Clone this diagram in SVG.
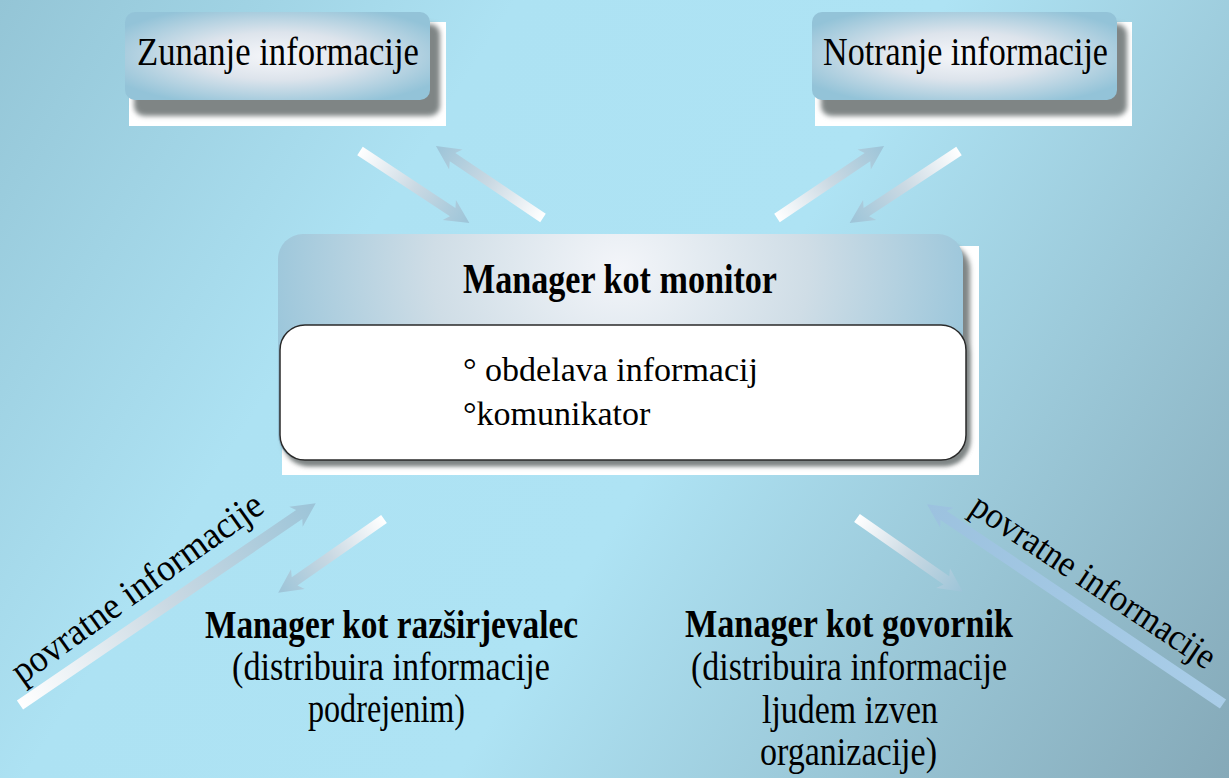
<svg xmlns="http://www.w3.org/2000/svg" width="1229" height="778" viewBox="0 0 1229 778">
  <defs>
    <linearGradient id="bg" x1="0" y1="0" x2="1229" y2="778" gradientUnits="userSpaceOnUse">
      <stop offset="0" stop-color="#94c5d6"/>
      <stop offset="0.3" stop-color="#ade2f3"/>
      <stop offset="0.55" stop-color="#aee3f4"/>
      <stop offset="1" stop-color="#85a9b8"/>
    </linearGradient>
    <radialGradient id="topbox" cx="0.5" cy="0.5" r="0.6">
      <stop offset="0" stop-color="#f6f7fa"/>
      <stop offset="0.45" stop-color="#dde4ec"/>
      <stop offset="1" stop-color="#93c3d8"/>
    </radialGradient>
    <radialGradient id="header" cx="0.5" cy="0.15" r="0.55" gradientTransform="translate(0.5,0.15) scale(1,2.5) translate(-0.5,-0.15)">
      <stop offset="0" stop-color="#f3f5f9"/>
      <stop offset="0.5" stop-color="#cfdde6"/>
      <stop offset="1" stop-color="#94c3d9"/>
    </radialGradient>
    <linearGradient id="arr" x1="0" y1="0" x2="1" y2="0">
      <stop offset="0" stop-color="#ffffff"/>
      <stop offset="0.5" stop-color="#cad9e3"/>
      <stop offset="1" stop-color="#9cc4d8"/>
    </linearGradient>
    <linearGradient id="arrBlue" x1="0" y1="0" x2="1" y2="0">
      <stop offset="0" stop-color="#a9cde8"/>
      <stop offset="1" stop-color="#9cc2df"/>
    </linearGradient>
    <filter id="blur" x="-10%" y="-20%" width="120%" height="140%">
      <feGaussianBlur stdDeviation="2.5"/>
    </filter>
  </defs>
  <style>
    .t { font-family: "Liberation Serif", "Times New Roman", serif; fill: #000; }
    .b { font-weight: bold; }
    .backdrop { fill: #ffffff; }
    .shadow { fill: #7f8585; filter: url(#blur); }
    .a { fill: url(#arr); }
  </style>

  <rect x="0" y="0" width="1229" height="778" fill="url(#bg)"/>

  <g id="node-zunanje">
    <rect class="backdrop" x="129" y="22" width="317" height="104"/>
    <rect class="shadow" x="134" y="24" width="306" height="92" rx="10"/>
    <rect x="125" y="12" width="305" height="88" rx="10" fill="url(#topbox)"/>
    <text class="t" x="137" y="65" font-size="40" textLength="282" lengthAdjust="spacingAndGlyphs">Zunanje informacije</text>
  </g>

  <g id="node-notranje">
    <rect class="backdrop" x="815" y="22" width="317" height="104"/>
    <rect class="shadow" x="821" y="24" width="306" height="92" rx="10"/>
    <rect x="812" y="12" width="305" height="88" rx="10" fill="url(#topbox)"/>
    <text class="t" x="823" y="65" font-size="39" textLength="285" lengthAdjust="spacingAndGlyphs">Notranje informacije</text>
  </g>

  <g id="node-monitor">
    <rect class="backdrop" x="282" y="246" width="697" height="229"/>
    <rect class="shadow" x="285" y="244" width="685" height="220" rx="25"/>
    <rect x="278" y="234" width="685" height="226" rx="25" fill="url(#header)"/>
    <rect class="shadow" x="283" y="330" width="686" height="136" rx="25"/>
    <rect x="280" y="325" width="686" height="135" rx="25" fill="#ffffff" stroke="#2a2a2a" stroke-width="1.5"/>
    <text class="t b" x="463" y="293" font-size="42" textLength="314" lengthAdjust="spacingAndGlyphs">Manager kot monitor</text>
    <text class="t" x="463" y="381" font-size="34">° obdelava informacij</text>
    <text class="t" x="463" y="425" font-size="34">°komunikator</text>
  </g>

  <g id="node-razsirjevalec">
    <text class="t b" x="205" y="638" font-size="40" textLength="373" lengthAdjust="spacingAndGlyphs">Manager kot razširjevalec</text>
    <text class="t" x="232" y="680" font-size="40" textLength="318" lengthAdjust="spacingAndGlyphs">(distribuira informacije</text>
    <text class="t" x="308" y="722" font-size="40" textLength="157" lengthAdjust="spacingAndGlyphs">podrejenim)</text>
  </g>

  <g id="node-govornik">
    <text class="t b" x="685" y="637" font-size="40" textLength="328" lengthAdjust="spacingAndGlyphs">Manager kot govornik</text>
    <text class="t" x="691" y="680" font-size="40" textLength="316" lengthAdjust="spacingAndGlyphs">(distribuira informacije</text>
    <text class="t" x="762" y="723" font-size="40" textLength="176" lengthAdjust="spacingAndGlyphs">ljudem izven</text>
    <text class="t" x="760" y="765" font-size="40" textLength="177" lengthAdjust="spacingAndGlyphs">organizacije)</text>
  </g>

  <g id="connectors">
    <path class="a" transform="translate(360,151) rotate(33.4)" d="M0,-5 H111 L107,-12 L131,0 L107,12 L111,5 H0 Z"/>
    <path class="a" transform="translate(543,218) rotate(213.9)" d="M0,-5 H109 L105,-12 L129,0 L105,12 L109,5 H0 Z"/>
    <path class="a" transform="translate(777,218) rotate(-33.9)" d="M0,-5 H109 L105,-12 L129,0 L105,12 L109,5 H0 Z"/>
    <path class="a" transform="translate(959,151) rotate(146.6)" d="M0,-5 H111 L107,-12 L131,0 L107,12 L111,5 H0 Z"/>
    <path class="a" transform="translate(20,705) rotate(-34.3)" d="M0,-5.5 H338 L334,-12 L358,0 L334,12 L338,5.5 H0 Z"/>
    <path class="a" transform="translate(384,519) rotate(145.1)" d="M0,-5 H109 L105,-12 L129,0 L105,12 L109,5 H0 Z"/>
    <path class="a" transform="translate(857,518) rotate(34.9)" d="M0,-5 H109 L105,-12 L129,0 L105,12 L109,5 H0 Z"/>
    <path fill="url(#arrBlue)" transform="translate(1223,704) rotate(214)" d="M0,-5.5 H337 L333,-12 L357,0 L333,12 L337,5.5 H0 Z"/>
    <text class="t" transform="translate(22,685) rotate(-35.5)" font-size="38" textLength="300" lengthAdjust="spacingAndGlyphs">povratne informacije</text>
    <text class="t" transform="translate(968,512) rotate(33.6)" font-size="37" textLength="286" lengthAdjust="spacingAndGlyphs">povratne informacije</text>
  </g>
</svg>
